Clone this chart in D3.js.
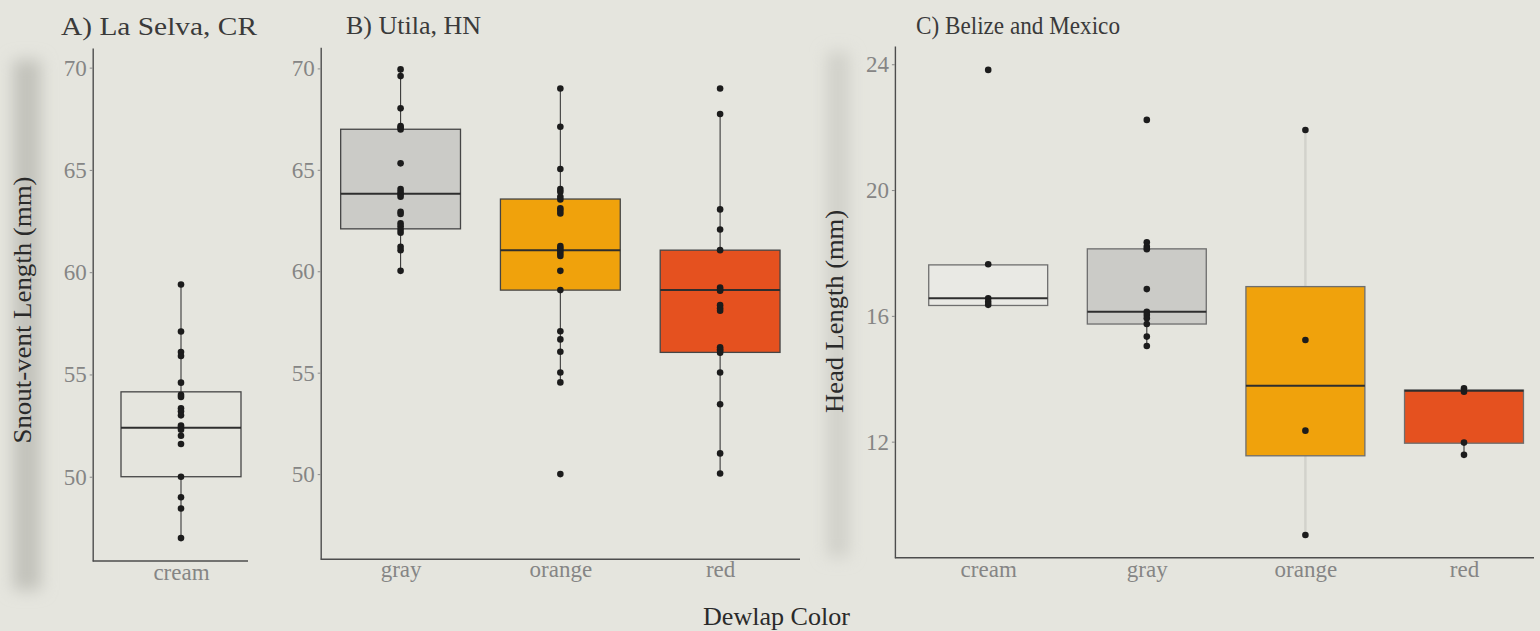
<!DOCTYPE html>
<html><head><meta charset="utf-8">
<script src="https://cdn.jsdelivr.net/npm/d3@7"></script>
<style>
html,body{margin:0;padding:0;background:#e5e5de;}
svg{display:block}
text{font-family:"Liberation Serif","DejaVu Serif",serif;}
</style></head><body>
<svg id="chart" width="1540" height="631"></svg>
<script>
// ---------------- DATA ----------------
// Panel A) La Selva, CR  (Snout-vent length, mm)
const catsA = ["cream"];
const loA  = [47.0];
const q1A  = [50.0];
const medA = [52.4];
const q3A  = [54.15];
const hiA  = [59.4];
const ptsA = [[59.4, 57.1, 56.1, 55.9, 54.6, 54.0, 53.9, 53.35, 53.2, 53.0, 52.5, 52.4, 52.3, 52.0, 51.6, 50.0, 49.0, 48.45, 47.0]];

// Panel B) Utila, HN (Snout-vent length, mm)
const catsB = ["gray", "orange", "red"];
const loB  = [60.0, 54.5, 50.0];
const q1B  = [62.09, 59.07, 56.0];
const medB = [63.82, 61.04, 59.07];
const q3B  = [67.0, 63.56, 61.04];
const hiB  = [69.95, 69.0, 67.75];
const ptsB = [
  [69.95, 69.62, 68.03, 67.16, 67.09, 66.99, 65.32, 64.05, 63.92, 63.80, 63.67, 62.93, 62.82, 62.36, 62.22, 62.05, 61.90, 61.21, 61.04, 60.02],
  [69.01, 67.12, 65.04, 64.05, 63.92, 63.67, 63.54, 63.10, 62.98, 62.85, 61.24, 61.13, 61.01, 60.88, 60.75, 60.02, 59.07, 57.04, 56.64, 56.03, 55.01, 54.52, 50.0],
  [69.01, 67.75, 63.05, 62.06, 61.04, 59.20, 59.10, 59.04, 58.33, 58.17, 58.05, 56.25, 56.15, 56.08, 55.98, 55.01, 53.44, 51.02, 50.03]
];

// Panel C) Belize and Mexico (Head length, mm)
const catsC = ["cream", "gray", "orange", "red"];
const loC  = [16.33, 15.04, 9.03, 11.58];
const q1C  = [16.33, 15.74, 11.55, 11.95];
const medC = [16.56, 16.13, 13.78, 13.62];
const q3C  = [17.62, 18.13, 16.93, 13.64];
const hiC  = [17.64, 18.34, 21.91, 13.70];
const ptsC = [
  [23.82, 17.64, 16.56, 16.45, 16.35],
  [22.23, 18.34, 18.20, 18.12, 16.85, 16.13, 16.03, 15.92, 15.74, 15.34, 15.04],
  [21.91, 15.23, 12.35, 9.03],
  [13.70, 13.59, 11.97, 11.58]
];

const ticksAB = [50, 55, 60, 65, 70];
const ticksC  = [12, 16, 20, 24];

// ---------------- STYLE ----------------
const fillOf = {cream: "none", gray: "#cbcbc7", orange: "#f0a20c", red: "#e5511f"};
const svg = d3.select("#chart");
const FONT = '"Liberation Serif","DejaVu Serif",serif';

const defs = svg.append("defs");
defs.append("filter").attr("id", "blur").attr("x", "-80%").attr("y", "-10%").attr("width", "260%").attr("height", "120%")
  .append("feGaussianBlur").attr("stdDeviation", 8);

// scan shadow bands
svg.append("rect").attr("x", 13).attr("y", 60).attr("width", 28).attr("height", 530)
  .attr("fill", "#c2c2bb").attr("filter", "url(#blur)");
svg.append("rect").attr("x", 827).attr("y", 52).attr("width", 22).attr("height", 505)
  .attr("fill", "#d0d0c9").attr("filter", "url(#blur)");

function makeBoxes(cats, lo, q1, med, q3, hi, pts) {
  return cats.map((c, i) => ({cat: c, lo: lo[i], q1: q1[i], med: med[i], q3: q3[i], hi: hi[i], pts: pts[i]}));
}

function drawPanel(cfg) {
  const g = svg.append("g");
  const y = d3.scaleLinear().domain(cfg.yDomain).range([cfg.yBottom, cfg.yTop]);
  const x = d3.scalePoint().domain(cfg.cats).range(cfg.xRange).padding(0.5);
  const bw = x.step() * 0.75;

  // y axis
  const ya = g.append("g").attr("transform", `translate(${cfg.xAxis},0)`)
    .call(d3.axisLeft(y).tickValues(cfg.ticks).tickSize(3).tickSizeOuter(0).tickPadding(3));
  ya.select(".domain").attr("stroke", "#4d4d4d").attr("stroke-width", 1.4);
  ya.selectAll(".tick line").attr("stroke", "#8a8a8a");
  ya.selectAll(".tick text").attr("fill", "#858585").style("font-family", FONT).style("font-size", cfg.tickFont + "px");
  if (cfg.tickTextLen) ya.selectAll(".tick text").attr("textLength", cfg.tickTextLen).attr("lengthAdjust", "spacingAndGlyphs");

  // x axis
  const xa = g.append("g").attr("transform", `translate(0,${cfg.yBottom})`)
    .call(d3.axisBottom(x).tickSize(0).tickPadding(cfg.xPad));
  xa.select(".domain").remove();
  xa.selectAll(".tick text").attr("fill", "#858585").style("font-family", FONT).style("font-size", cfg.xFont + "px");
  g.append("line").attr("x1", cfg.xAxis).attr("x2", cfg.xLineEnd)
    .attr("y1", cfg.yBottom).attr("y2", cfg.yBottom).attr("stroke", "#4d4d4d").attr("stroke-width", 1.4);

  const data = makeBoxes(cfg.cats, cfg.lo, cfg.q1, cfg.med, cfg.q3, cfg.hi, cfg.pts);
  const bg = g.selectAll(".box").data(data).enter().append("g");

  // whiskers
  const wc = d => (cfg.whiskerColor && cfg.whiskerColor[d.cat]) || "#3a3a3a";
  const ww = d => (cfg.whiskerColor && cfg.whiskerColor[d.cat]) ? 2.5 : 1.1;
  bg.append("line").attr("x1", d => x(d.cat)).attr("x2", d => x(d.cat))
    .attr("y1", d => y(d.q3)).attr("y2", d => y(d.hi)).attr("stroke", wc).attr("stroke-width", ww);
  bg.append("line").attr("x1", d => x(d.cat)).attr("x2", d => x(d.cat))
    .attr("y1", d => y(d.q1)).attr("y2", d => y(d.lo)).attr("stroke", wc).attr("stroke-width", ww);

  // boxes
  bg.append("rect").attr("x", d => x(d.cat) - bw / 2).attr("width", bw)
    .attr("y", d => y(d.q3)).attr("height", d => y(d.q1) - y(d.q3))
    .attr("fill", d => (cfg.fill && cfg.fill[d.cat]) || fillOf[d.cat])
    .attr("stroke", cfg.boxStroke).attr("stroke-width", 1.3);
  // median
  bg.append("line").attr("x1", d => x(d.cat) - bw / 2).attr("x2", d => x(d.cat) + bw / 2)
    .attr("y1", d => y(d.med)).attr("y2", d => y(d.med))
    .attr("stroke", "#2e2e2e").attr("stroke-width", 2);

  // points
  bg.each(function (d) {
    d3.select(this).selectAll("circle").data(d.pts).enter().append("circle")
      .attr("cx", x(d.cat)).attr("cy", v => y(v)).attr("r", 3.3).attr("fill", "#1c1c1c");
  });

  // title
  svg.append("text").attr("x", cfg.title.x).attr("y", cfg.title.y)
    .attr("textLength", cfg.title.len).attr("lengthAdjust", "spacingAndGlyphs")
    .style("font-size", cfg.title.size + "px").attr("fill", "#3a3a3a").text(cfg.title.text);
}

drawPanel({
  cats: catsA, lo: loA, q1: q1A, med: medA, q3: q3A, hi: hiA, pts: ptsA,
  yDomain: [45.88, 70.96], yTop: 48, yBottom: 561, xAxis: 92.7, xRange: [101, 261], xLineEnd: 248,
  ticks: ticksAB, tickFont: 23, xFont: 23, xPad: 2.5, boxStroke: "#454545",
  title: {text: "A) La Selva, CR", x: 61, y: 34.5, len: 196, size: 26}
});
drawPanel({
  cats: catsB, lo: loB, q1: q1B, med: medB, q3: q3B, hi: hiB, pts: ptsB,
  yDomain: [45.8, 71.04], yTop: 47.3, yBottom: 559.3, xAxis: 320.7, xRange: [320.7, 800], xLineEnd: 800,
  ticks: ticksAB, tickFont: 23, xFont: 23, xPad: 1.5, boxStroke: "#454545",
  title: {text: "B) Utila, HN", x: 346, y: 34, len: 135, size: 26}
});
drawPanel({
  cats: catsC, lo: loC, q1: q1C, med: medC, q3: q3C, hi: hiC, pts: ptsC,
  yDomain: [8.31, 24.58], yTop: 46, yBottom: 557.7, xAxis: 894.9, xRange: [908.9, 1543.3], xLineEnd: 1534,
  ticks: ticksC, tickFont: 23, tickTextLen: 23, xFont: 23, xPad: 2.5, boxStroke: "#6e6e6e",
  fill: {cream: "#e9e9e4"}, whiskerColor: {orange: "#d2d2cc"},
  title: {text: "C) Belize and Mexico", x: 916, y: 33.5, len: 204, size: 25}
});

// axis titles
svg.append("text").attr("transform", "translate(31,310) rotate(-90)").attr("text-anchor", "middle")
  .attr("textLength", 267).attr("lengthAdjust", "spacingAndGlyphs")
  .style("font-size", "25px").attr("fill", "#2a2a2a").text("Snout-vent Length (mm)");
svg.append("text").attr("transform", "translate(843,311.5) rotate(-90)").attr("text-anchor", "middle")
  .attr("textLength", 203).attr("lengthAdjust", "spacingAndGlyphs")
  .style("font-size", "25px").attr("fill", "#2a2a2a").text("Head Length (mm)");
svg.append("text").attr("x", 776.5).attr("y", 625).attr("text-anchor", "middle")
  .attr("textLength", 147).attr("lengthAdjust", "spacingAndGlyphs")
  .style("font-size", "26px").attr("fill", "#2a2a2a").text("Dewlap Color");
</script>
</body></html>
